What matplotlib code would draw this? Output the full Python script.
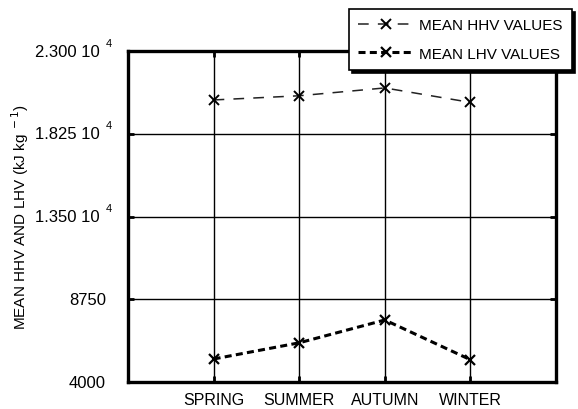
import matplotlib
matplotlib.use("Agg")
import matplotlib.pyplot as plt
import matplotlib.transforms as mtransforms

plt.rcParams['font.family'] = ['Liberation Sans', 'DejaVu Sans']

seasons = ["SPRING", "SUMMER", "AUTUMN", "WINTER"]
hhv = [20190, 20430, 20880, 20050]
lhv = [5320, 6250, 7560, 5280]
ytick_vals = [4000, 8750, 13500, 18250, 23000]
ytick_main = ["4000", "8750", "1.350 10", "1.825 10", "2.300 10"]
ytick_exp = ["", "", "4", "4", "4"]

W, H = 578, 410
fig = plt.figure(figsize=(W / 100, H / 100), dpi=100)
ax = fig.add_axes([128 / W, 1 - 383 / H, (556 - 128) / W, (383 - 52) / H])

x = list(range(1, len(seasons) + 1))
ax.plot(x, hhv, color='#222222', lw=1.1, dashes=(7, 6), marker='x',
        markersize=7, markeredgewidth=1.4, markeredgecolor='black',
        label='MEAN HHV VALUES')
ax.plot(x, lhv, color='black', lw=2.2, dashes=(2.3, 1.4), marker='x',
        markersize=7, markeredgewidth=1.6, markeredgecolor='black',
        label='MEAN LHV VALUES')

ax.set_xlim(0, 5)
ax.set_ylim(4000, 23000)
ax.set_xticks(x)
ax.set_xticklabels(seasons, fontsize=11.5)
ax.set_yticks(ytick_vals)
ax.set_yticklabels([])
ax.tick_params(axis='both', direction='in', length=4, width=2,
               top=True, right=True, colors='black')
ax.tick_params(axis='x', pad=7.5)
ax.grid(True, color='black', lw=1.0)
for s in ax.spines.values():
    s.set_linewidth(2.4)
    s.set_color('black')

trans = mtransforms.blended_transform_factory(fig.transFigure, ax.transData)
for v, m, e in zip(ytick_vals, ytick_main, ytick_exp):
    if e:
        ax.text(100 / W, v, m, transform=trans, ha='right', va='center', fontsize=12)
        ax.text(109 / W, v, e, transform=trans + mtransforms.ScaledTranslation(0, 6 / 72, fig.dpi_scale_trans),
                ha='center', va='center', fontsize=8)
    else:
        ax.text(106 / W, v, m, transform=trans, ha='right', va='center', fontsize=12)

fig.text(20 / W, 1 - 217 / H, r"MEAN HHV AND LHV (kJ kg$^{\ -1}$)", rotation=90,
         ha='center', va='center', fontsize=11)

leg = ax.legend(loc='upper right', bbox_to_anchor=(572 / W, 1 - 10 / H),
                bbox_transform=fig.transFigure, fontsize=11, frameon=True,
                fancybox=False, edgecolor='black', framealpha=1,
                shadow={'color': 'black', 'alpha': 1}, handlelength=3.6,
                labelspacing=0.95, borderpad=0.6, handletextpad=0.4,
                borderaxespad=0)
leg.get_frame().set_linewidth(1.2)

fig.savefig("out.png", dpi=100)
